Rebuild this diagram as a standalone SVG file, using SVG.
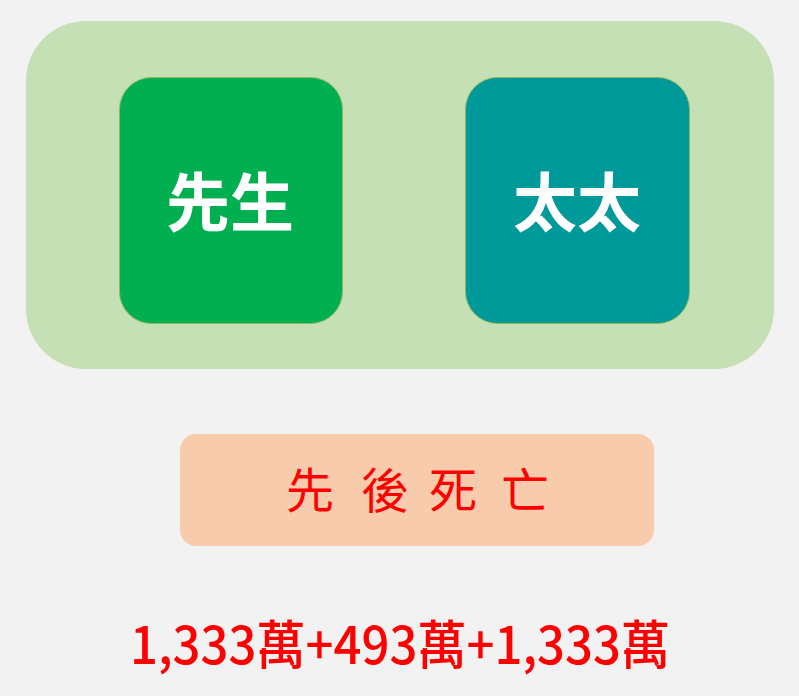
<svg xmlns="http://www.w3.org/2000/svg" width="799" height="696" viewBox="0 0 799 696">
<style>
.node{stroke:#8fb860;stroke-width:1}
.lbl{font-family:"Noto Sans CJK TC","Noto Sans CJK SC",sans-serif;font-weight:bold;font-size:64px;fill:#ffffff;text-anchor:middle}
.hand{font-family:"Noto Sans CJK TC","Noto Sans CJK SC",sans-serif;font-weight:400;font-size:48px;fill:#ff0000;text-anchor:middle}
.sum{font-family:"Noto Sans CJK TC","Noto Sans CJK SC",sans-serif;font-weight:500;font-size:52px;fill:#ff0000;text-anchor:middle}
</style>
<rect width="799" height="696" fill="#f2f2f2"/>
<g id="container">
<rect x="26" y="21" width="748" height="348" rx="60" ry="60" fill="#c5e0b4"/>
</g>
<g id="node-husband">
<rect class="node" x="119.5" y="77.5" width="223" height="246" rx="32" ry="32" fill="#00b050"/>
<text class="lbl" x="230" y="226">先生</text>
</g>
<g id="node-wife">
<rect class="node" x="465.5" y="77.5" width="224" height="246" rx="32" ry="32" fill="#00999a"/>
<text class="lbl" x="577" y="226">太太</text>
</g>
<g id="connectors"></g>
<g id="node-order">
<rect x="180" y="434" width="474" height="112" rx="16" ry="16" fill="#f8cbad"/>
<text class="hand" x="310" y="508">先</text>
<text class="hand" x="385" y="508">後</text>
<text class="hand" x="453" y="508">死</text>
<text class="hand" x="525" y="508">亡</text>
</g>
<g id="total">
<text class="sum" x="400" y="664" textLength="540" lengthAdjust="spacingAndGlyphs">1,333萬+493萬+1,333萬</text>
</g>
</svg>
